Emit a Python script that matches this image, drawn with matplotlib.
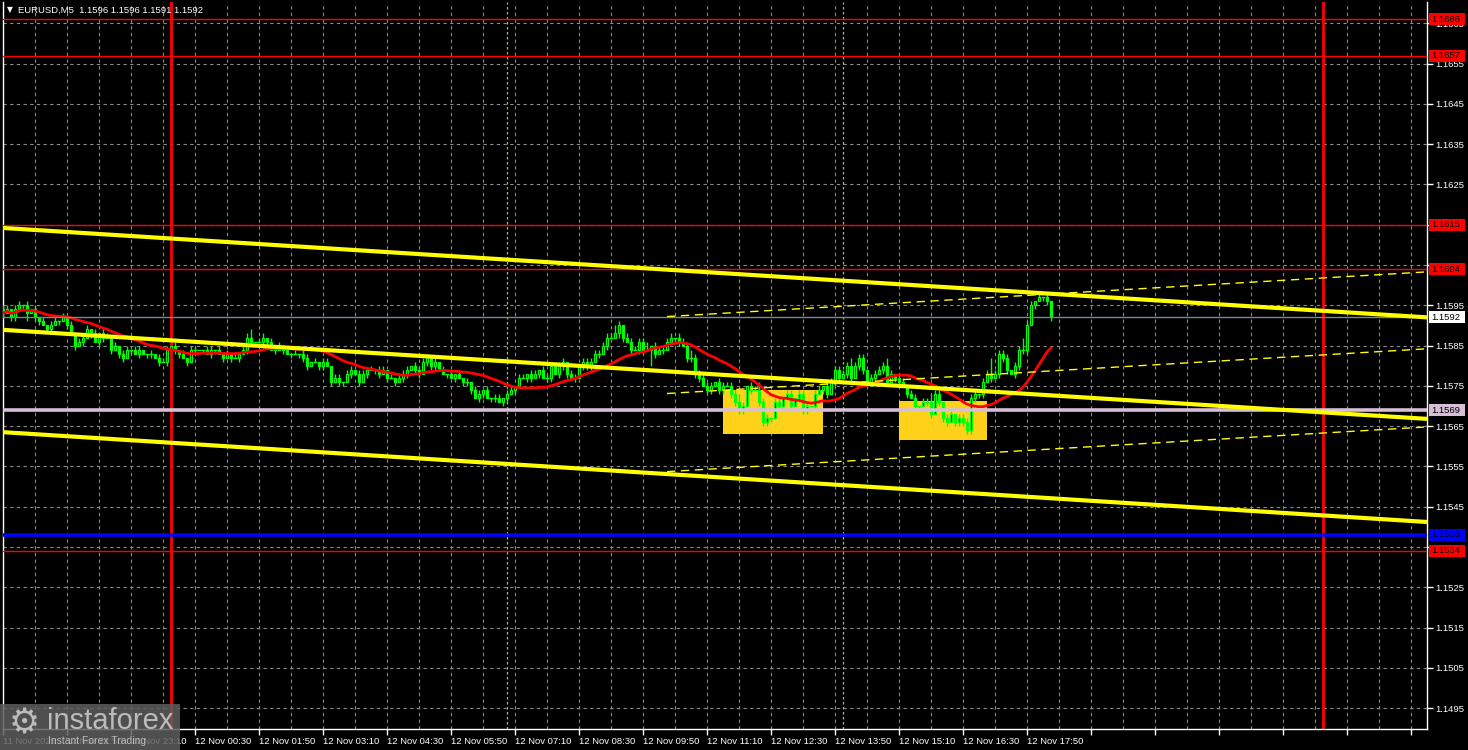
import numpy as np
import pandas as pd
import matplotlib
matplotlib.use('Agg')
import matplotlib.pyplot as plt
from matplotlib import transforms
from matplotlib.patches import Rectangle

plt.rcParams['font.family'] = ['Liberation Sans', 'DejaVu Sans']

# EURUSD M5 closes, one per 5 min bar starting 11 Nov 20:30
closes = [
    1.1593, 1.1594, 1.1592, 1.1594, 1.1595, 1.1595, 1.1593, 1.1594, 1.1592, 1.1591,
    1.1590, 1.1589, 1.1590, 1.1591, 1.1591, 1.1592, 1.1590, 1.1588, 1.1585, 1.1586,
    1.1587, 1.1589, 1.1588, 1.1586, 1.1588, 1.1587, 1.1587, 1.1584, 1.1585, 1.1583,
    1.1582, 1.1584, 1.1584, 1.1583, 1.1584, 1.1583, 1.1583, 1.1583, 1.1582, 1.1581,
    1.1581, 1.1584, 1.1585, 1.1584, 1.1583, 1.1582, 1.1581, 1.1584, 1.1584, 1.1584,
    1.1584, 1.1583, 1.1584, 1.1584, 1.1583, 1.1582, 1.1583, 1.1582, 1.1582, 1.1583,
    1.1584, 1.1587, 1.1586, 1.1586, 1.1586, 1.1587, 1.1586, 1.1584, 1.1584, 1.1585,
    1.1584, 1.1583, 1.1583, 1.1583, 1.1583, 1.1582, 1.1580, 1.1581, 1.1581, 1.1580,
    1.1581, 1.1580, 1.1576, 1.1577, 1.1576, 1.1576, 1.1578, 1.1579, 1.1578, 1.1576,
    1.1578, 1.1579, 1.1579, 1.1579, 1.1578, 1.1579, 1.1577, 1.1577, 1.1576, 1.1577,
    1.1578, 1.1579, 1.1580, 1.1579, 1.1578, 1.1581, 1.1582, 1.1580, 1.1581, 1.1579,
    1.1578, 1.1578, 1.1577, 1.1578, 1.1577, 1.1576, 1.1576, 1.1574, 1.1572, 1.1573,
    1.1574, 1.1572, 1.1572, 1.1572, 1.1571, 1.1572, 1.1573, 1.1574, 1.1575, 1.1577,
    1.1577, 1.1578, 1.1577, 1.1578, 1.1579, 1.1577, 1.1577, 1.1580, 1.1578, 1.1580,
    1.1581, 1.1578, 1.1577, 1.1577, 1.1580, 1.1581, 1.1580, 1.1581, 1.1583, 1.1583,
    1.1585, 1.1587, 1.1587, 1.1588, 1.1590, 1.1587, 1.1586, 1.1584, 1.1584, 1.1586,
    1.1584, 1.1584, 1.1585, 1.1583, 1.1584, 1.1584, 1.1586, 1.1587, 1.1587, 1.1586,
    1.1585, 1.1582, 1.1582, 1.1578, 1.1577, 1.1575, 1.1574, 1.1575, 1.1576, 1.1574,
    1.1575, 1.1575, 1.1573, 1.1571, 1.1569, 1.1570, 1.1575, 1.1574, 1.1574, 1.1571,
    1.1566, 1.1567, 1.1567, 1.1571, 1.1570, 1.1572, 1.1573, 1.1570, 1.1572, 1.1573,
    1.1569, 1.1570, 1.1570, 1.1573, 1.1574, 1.1575, 1.1573, 1.1576, 1.1579, 1.1577,
    1.1578, 1.1580, 1.1577, 1.1580, 1.1582, 1.1579, 1.1576, 1.1577, 1.1578, 1.1579,
    1.1580, 1.1576, 1.1578, 1.1577, 1.1576, 1.1575, 1.1573, 1.1572, 1.1570, 1.1570,
    1.1571, 1.1571, 1.1568, 1.1573, 1.1571, 1.1567, 1.1566, 1.1568, 1.1566, 1.1567,
    1.1566, 1.1564, 1.1572, 1.1573, 1.1573, 1.1576, 1.1578, 1.1577, 1.1578, 1.1583,
    1.1582, 1.1579, 1.1578, 1.1580, 1.1584, 1.1584, 1.1590, 1.1595, 1.1596, 1.1597,
    1.1597, 1.1596, 1.1592,
]
first_open = 1.1594

# wick lengths in pips above/below the body
wick_up = [
    1, 1, 0, 1, 1, 0, 1, 0, 1, 0,
    1, 0, 1, 1, 0, 1, 0, 1, 0, 1,
    1, 1, 0, 1, 0, 1, 1, 0, 1, 0,
    1, 1, 0, 1, 1, 0, 0, 1, 0, 1,
    1, 1, 0, 1, 0, 1, 0, 1, 1, 0,
    0, 1, 1, 0, 1, 0, 1, 0, 1, 0,
    1, 1, 2, 0, 1, 1, 0, 1, 0, 1,
    0, 1, 0, 1, 0, 1, 1, 0, 1, 0,
    1, 1, 0, 1, 1, 0, 1, 1, 0, 1,
    1, 0, 1, 0, 1, 1, 0, 1, 0, 1,
    1, 1, 0, 1, 1, 1, 1, 0, 1, 0,
    1, 0, 1, 0, 1, 0, 1, 0, 1, 1,
    0, 1, 0, 1, 1, 0, 1, 1, 0, 1,
    1, 0, 1, 1, 0, 1, 1, 1, 0, 1,
    1, 0, 1, 1, 0, 1, 1, 1, 1, 1,
    1, 1, 1, 2, 1, 0, 1, 1, 1, 1,
    1, 2, 0, 1, 1, 1, 1, 1, 0, 1,
    1, 1, 2, 1, 1, 1, 1, 1, 0, 1,
    1, 1, 1, 1, 2, 1, 0, 1, 1, 2,
    1, 1, 0, 1, 1, 0, 1, 1, 0, 1,
    1, 1, 0, 1, 1, 0, 1, 1, 1, 1,
    1, 1, 2, 1, 1, 1, 0, 1, 1, 1,
    1, 2, 1, 0, 1, 1, 0, 1, 1, 0,
    1, 1, 2, 1, 1, 0, 1, 1, 0, 1,
    1, 1, 1, 1, 0, 1, 1, 4, 1, 1,
    1, 1, 0, 1, 1, 3, 1, 1, 0, 1,
    0, 1, 0,
]
wick_dn = [
    1, 0, 1, 1, 0, 1, 2, 0, 1, 1,
    0, 1, 1, 0, 1, 0, 1, 0, 1, 0,
    1, 0, 1, 0, 1, 1, 0, 1, 0, 1,
    1, 0, 1, 0, 1, 0, 1, 1, 0, 1,
    0, 1, 0, 1, 1, 0, 1, 0, 1, 0,
    1, 0, 1, 1, 0, 1, 0, 1, 0, 1,
    0, 1, 1, 0, 0, 1, 1, 0, 1, 0,
    1, 0, 1, 0, 1, 1, 1, 0, 0, 1,
    1, 0, 1, 0, 1, 1, 0, 1, 0, 1,
    0, 1, 0, 1, 1, 0, 1, 0, 1, 0,
    1, 1, 0, 1, 1, 0, 1, 1, 1, 0,
    0, 1, 0, 1, 0, 1, 1, 1, 0, 1,
    1, 0, 1, 1, 0, 1, 1, 0, 1, 0,
    0, 1, 1, 0, 1, 0, 1, 1, 0, 1,
    1, 1, 0, 1, 0, 1, 1, 1, 0, 1,
    0, 1, 0, 0, 1, 1, 0, 1, 0, 1,
    1, 0, 4, 1, 0, 1, 0, 0, 1, 1,
    0, 1, 1, 1, 1, 0, 1, 1, 0, 1,
    1, 0, 1, 1, 1, 1, 0, 1, 0, 1,
    1, 1, 1, 0, 1, 1, 0, 1, 0, 1,
    1, 1, 0, 1, 0, 1, 1, 0, 1, 1,
    0, 1, 1, 0, 1, 1, 1, 0, 1, 0,
    1, 1, 0, 1, 1, 0, 1, 0, 1, 1,
    0, 1, 1, 0, 1, 1, 1, 0, 1, 1,
    1, 1, 1, 1, 1, 1, 0, 1, 0, 1,
    1, 1, 0, 1, 1, 1, 1, 0, 1, 0,
    1, 1, 1,
]

start_time = '2025-11-11 20:30'
bars_visible = 356          # bar slots across the window
ma_period = 20

# trend channel (thick) and rising channel (dashed): [bar, bar] -> [price, price]
channel_bars = [0, 356]
channel_upper = [1.16142, 1.15920]
channel_mid = [1.15889, 1.15668]
channel_low = [1.15635, 1.15412]
dash_bars = [166, 356]
dash_upper = [1.15922, 1.16033]
dash_mid = [1.15731, 1.15842]
dash_low = [1.15537, 1.15648]

# yellow signal zones
zone_left = [180, 224]
zone_right = [205, 246]
zone_low = [1.15631, 1.15616]
zone_high = [1.15740, 1.15712]

# horizontal levels
level_prices = [1.1666, 1.1657, 1.1615, 1.1604, 1.1592, 1.1569, 1.1538, 1.1534]
level_colors = ['#ff0000', '#ff0000', '#ff0000', '#ff0000', '#778899', '#d8bfd8', '#0000ff', '#ff0000']
level_box = ['#ff0000', '#ff0000', '#ff0000', '#ff0000', '#ffffff', '#d8bfd8', '#0000ff', '#ff0000']
level_widths = [1, 1, 1, 1, 1, 2.6, 2.6, 1]
# scale labels that sit fully under a level box
hidden_scale = [1.1615, 1.1605, 1.1535]

day_sep_bars = [42, 330]
session_bars = [126, 210]

title_text = 'EURUSD,M5  1.1596 1.1596 1.1591 1.1592'

# ---------------------------------------------------------------
closes = np.array(closes)
opens = np.array([first_open] + list(closes[:-1]))
highs = np.maximum(opens, closes) + np.array(wick_up) * 0.0001
lows = np.minimum(opens, closes) - np.array(wick_dn) * 0.0001
x = np.arange(len(closes))
ma = pd.Series(closes).rolling(ma_period, min_periods=1).mean()

fig = plt.figure(figsize=(14.68, 7.5), dpi=100, facecolor='black')
W, H = 1468, 750
ax = fig.add_axes([3 / W, 21 / H, 1424 / W, 727 / H], facecolor='black')
ax.set_xlim(0, bars_visible)
ax.set_ylim(1.14898, 1.16703)
px_price = (1.16703 - 1.14898) / 727     # price per pixel

# grid
yt = np.round(np.arange(1.1495, 1.1666, 0.0010), 4)
ax.set_yticks(yt)
ax.set_xticks(np.arange(0, bars_visible, 16))
ax.set_xticks(np.arange(0, bars_visible, 8), minor=True)
gkw = dict(color='#8a8a8a', linestyle=(0, (3, 3)), linewidth=0.8)
ax.grid(True, which='both', axis='x', **gkw)
ax.grid(True, which='major', axis='y', **gkw)
ax.set_axisbelow(True)

# zones
for l, r, lo, hi in zip(zone_left, zone_right, zone_low, zone_high):
    ax.add_patch(Rectangle((l, lo), r - l, hi - lo, facecolor='#ffd21a', edgecolor='none', zorder=1.5))

# session / day separators
for b in session_bars:
    ax.axvline(b, color='#9acd32', linestyle=(0, (2, 2)), linewidth=0.9, zorder=1.6)
for b in day_sep_bars:
    ax.axvline(b, color='#ff0000', linewidth=2, zorder=1.7)

# candles
lime = '#00ff00'
ax.vlines(x, lows, highs, color=lime, linewidth=1, zorder=3)
up = closes > opens
dn = closes < opens
eq = closes == opens
ax.bar(x[up], (closes - opens)[up], bottom=opens[up], width=0.6,
       facecolor='black', edgecolor=lime, linewidth=0.9, zorder=3.1)
ax.bar(x[dn], (opens - closes)[dn], bottom=closes[dn], width=0.6,
       facecolor=lime, edgecolor=lime, linewidth=0.9, zorder=3.1)
ax.hlines(closes[eq], x[eq] - 0.4, x[eq] + 0.4, color=lime, linewidth=1, zorder=3.1)

# moving average
ax.plot(x, ma, color='#ff0000', linewidth=2, zorder=4)

# horizontal levels
for p, c, lw in zip(level_prices, level_colors, level_widths):
    ax.axhline(p, color=c, linewidth=lw, zorder=4.2)

# channels
for ys in (channel_upper, channel_mid, channel_low):
    ax.plot(channel_bars, ys, color='#ffff00', linewidth=3, zorder=5, solid_capstyle='butt')
for ys in (dash_upper, dash_mid, dash_low):
    ax.plot(dash_bars, ys, color='#ffff00', linewidth=1, linestyle=(0, (6, 4)), zorder=5)

# axes styling
for s in ('left', 'bottom', 'right'):
    ax.spines[s].set_color('white')
    ax.spines[s].set_linewidth(1)
ax.spines['top'].set_visible(False)
ax.yaxis.tick_right()
ax.tick_params(axis='y', which='major', colors='white', length=4, width=1, pad=2, labelsize=6.8)
ax.tick_params(axis='x', which='major', colors='white', length=4, width=1, pad=1.5, labelsize=6.8)
ax.tick_params(axis='x', which='minor', length=0)
ax.set_yticklabels(['' if any(abs(v - h) < 1e-6 for h in hidden_scale) else '%.4f' % v for v in yt])

times = pd.date_range(start_time, periods=bars_visible, freq='5min')
xlabels = []
for b in ax.get_xticks():
    b = int(b)
    if b == 0:
        xlabels.append(times[b].strftime('%d %b %Y'))
    elif b < len(closes):
        xlabels.append(times[b].strftime('%d %b %H:%M'))
    else:
        xlabels.append('')
ax.set_xticklabels(xlabels)
for lbl in ax.get_xticklabels():
    lbl.set_horizontalalignment('left')

# price labels for levels on the right scale
trans = transforms.blended_transform_factory(ax.transAxes, ax.transData)
box_x0 = (1429 - 3) / 1424
box_w = 36 / 1424
box_h = 12 * px_price
for p, bc in zip(level_prices, level_box):
    ax.add_patch(Rectangle((box_x0, p - box_h / 2), box_w, box_h, transform=trans,
                           facecolor=bc, edgecolor='none', clip_on=False, zorder=9))
    ax.text(box_x0 + 2 / 1424, p, '%.4f' % p, transform=trans, ha='left', va='center',
            fontsize=6.8, color='black', zorder=10, clip_on=False)

# title
fig.text(7 / W, 1 - 10 / H, '\u25bc', color='white', fontsize=5.5, va='center', family=['DejaVu Sans'])
fig.text(18 / W, 1 - 10 / H, title_text, color='white', fontsize=6.8, va='center')

# watermark
fig.add_artist(Rectangle((0, 0), 180 / W, 46 / H, transform=fig.transFigure,
                         facecolor='#5e5e5e', edgecolor='none', alpha=0.85, zorder=20))
fig.text(24 / W, 1 - 723 / H, '\u2699', color='#c8c8c8', fontsize=25, ha='center', va='center',
         family=['DejaVu Sans'], zorder=21, alpha=0.9)
fig.text(47 / W, 1 - 721 / H, 'instaforex', color='#c8c8c8', fontsize=21, ha='left', va='center',
         zorder=21, alpha=0.9)
fig.text(48 / W, 1 - 741 / H, 'Instant Forex Trading', color='#c8c8c8', fontsize=7.5, ha='left',
         va='center', zorder=21, alpha=0.9)

fig.savefig('out.png', dpi=100, facecolor='black')
